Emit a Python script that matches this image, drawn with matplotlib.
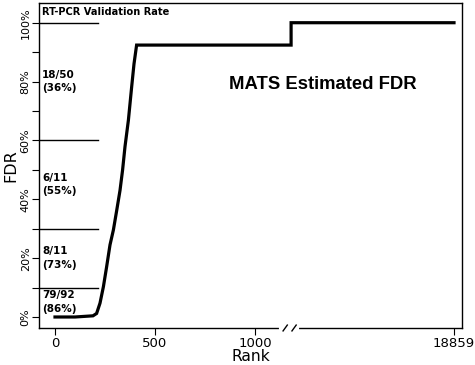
import numpy as np
import matplotlib
matplotlib.use("Agg")
import matplotlib.pyplot as plt
from matplotlib.ticker import FuncFormatter, MultipleLocator

# MATS estimated FDR along the rank of events
rank = [0, 100, 190, 208, 225, 242, 258, 275, 292, 308, 325, 338,
        350, 367, 383, 395, 408, 1190, 1190, 18859]
fdr = [0.0, 0.0, 0.4, 1.2, 4.7, 10.3, 17.0, 24.5, 29.6, 36.0, 43.0, 50.0,
       57.9, 66.9, 78.0, 86.0, 92.4, 92.4, 100.0, 100.0]

# RT-PCR validation bins: boundaries and labels
bin_edges = [10, 30, 60, 100]
bin_centers = [5, 20, 45, 80]
bin_labels = ["79/92\n(86%)", "8/11\n(73%)", "6/11\n(55%)", "18/50\n(36%)"]

x_ticks = [0, 500, 1000, 18859]

# broken x axis: linear up to BREAK, compressed after it
BREAK = 1180
K = 815 / (18859 - BREAK)


def fwd(r):
    r = np.asarray(r, dtype=float)
    return np.where(r <= BREAK, r, BREAK + (r - BREAK) * K)


def inv(u):
    u = np.asarray(u, dtype=float)
    return np.where(u <= BREAK, u, BREAK + (u - BREAK) / K)


fig = plt.figure(figsize=(4.75, 3.65), dpi=100)
ax = fig.add_axes([39 / 475, 37 / 365, 423 / 475, 325 / 365])
ax.set_xscale("function", functions=(fwd, inv))

ax.plot(rank, fdr, color="black", lw=2.3, solid_joinstyle="miter", zorder=3)

# validation bin lines and labels
for e in bin_edges:
    ax.plot([-80, 215], [e, e], color="black", lw=1.0)
for c, lab in zip(bin_centers, bin_labels):
    ax.text(-65, c, lab, fontsize=7.5, fontweight="bold", va="center",
            ha="left", linespacing=1.45)
ax.text(-65, 103.5, "RT-PCR Validation Rate", fontsize=7.1,
        fontweight="bold", va="center", ha="left")
ax.text(0.67, 0.748, "MATS Estimated FDR", transform=ax.transAxes,
        fontsize=13.3, fontweight="bold", family="Liberation Sans",
        ha="center", va="center")

ax.set_xlim(-80, float(inv(2035)))
ax.set_ylim(-3.74, 106.7)
ax.set_xticks(x_ticks)
ax.set_xticklabels([str(t) for t in x_ticks])
ax.yaxis.set_major_locator(MultipleLocator(10))
ax.yaxis.set_major_formatter(
    FuncFormatter(lambda v, p: "%d%%" % v if round(v) % 20 == 0 else ""))
ax.tick_params(axis="y", labelrotation=90, labelsize=8, length=5,
               width=0.8, pad=1)
ax.tick_params(axis="x", labelsize=9.5, length=5, width=0.8, pad=1.5)
for t in ax.get_yticklabels():
    t.set_va("center")
ax.set_xlabel("Rank", fontsize=11.2, labelpad=-0.5)
ax.set_ylabel("FDR", fontsize=11.5, labelpad=1.5)
for s in ax.spines.values():
    s.set_linewidth(1.0)

# axis break on the bottom spine
tr = ax.transAxes
ax.plot([0.572, 0.61], [0, 0], color="white", lw=3, transform=tr,
        clip_on=False, zorder=5)
for xs in (0.582, 0.603):
    ax.plot([xs - 0.005, xs + 0.005], [-0.009, 0.009], color="black", lw=1.0,
            transform=tr, clip_on=False, zorder=6)

fig.savefig("out.png", dpi=100)
